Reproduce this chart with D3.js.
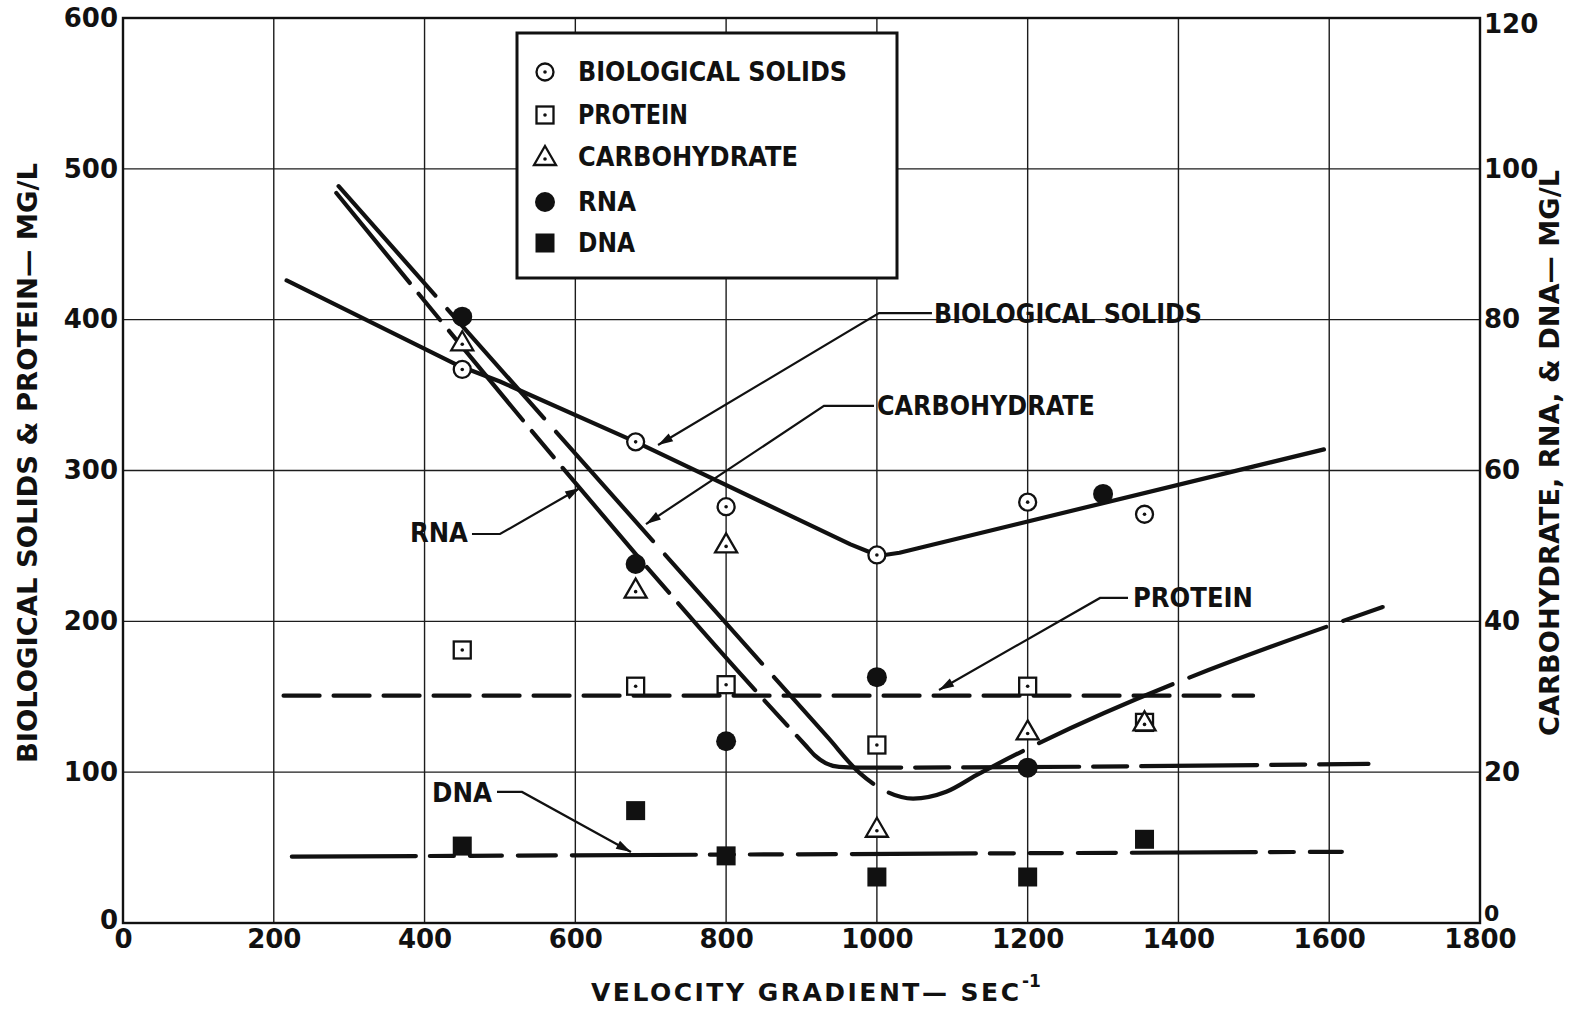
<!DOCTYPE html>
<html>
<head>
<meta charset="utf-8">
<script src="https://cdn.jsdelivr.net/npm/d3@7"></script>
<style>
  html, body { margin: 0; padding: 0; background: #fff; }
  svg { display: block; }
  text { font-family: "DejaVu Sans", "Liberation Sans", sans-serif; font-weight: bold; fill: #111; }
</style>
</head>
<body>
<svg id="chart" width="1575" height="1013"></svg>
<script>
// ---- Axis ticks ----
const xTicks = [0, 200, 400, 600, 800, 1000, 1200, 1400, 1600, 1800];
const leftTicks = [0, 100, 200, 300, 400, 500, 600];
const rightTicks = [0, 20, 40, 60, 80, 100, 120];

// ---- Measured values (left axis, mg/L) ----
const bioX = [450, 680, 800, 1000, 1200, 1355];
const bioSolids = [367, 319, 276, 244, 279, 271];
const proteinX = [450, 680, 800, 1000, 1200, 1355];
const protein = [181, 157, 158, 118, 157, 133];

// ---- Measured values (right axis, mg/L) ----
const carbX = [450, 680, 800, 1000, 1200, 1355];
const carbohydrate = [77.0, 44.2, 50.2, 12.5, 25.4, 26.6];
const rnaX = [450, 680, 800, 1000, 1200, 1300];
const rna = [80.4, 47.6, 24.1, 32.6, 20.6, 56.9];
const dnaX = [450, 680, 800, 1000, 1200, 1355];
const dna = [10.2, 14.9, 8.9, 6.1, 6.1, 11.1];

// ---- Fitted trend curves ----
const bioFitX = [217, 443, 500, 680, 965, 990, 1010, 1030, 1593];
const bioFit = [426, 370, 359, 319, 251, 246, 244, 245.5, 314];
const proteinFitX = [213, 1499];
const proteinFit = [150.7, 150.7];
const carbFitX = [286, 935, 977, 1004, 1048, 1092, 1132, 1671];
const carbFit = [97.7, 24.6, 19.9, 17.9, 16.5, 17.4, 19.6, 41.9];
const rnaFitX = [283, 905, 918, 932, 950, 975, 1652];
const rnaFit = [96.8, 23.6, 22.2, 21.2, 20.7, 20.6, 21.1];
const dnaFitX = [224, 1630];
const dnaFit = [8.8, 9.45];

// ---- Layout ----
const plot = { left: 123, right: 1480, top: 18, bottom: 923 };
const x = d3.scaleLinear().domain([0, 1800]).range([plot.left, plot.right]);
const yL = d3.scaleLinear().domain([0, 600]).range([plot.bottom, plot.top]);
const yR = d3.scaleLinear().domain([0, 120]).range([plot.bottom, plot.top]);

const svg = d3.select("#chart");
const ink = "#111";

// ---- Grid ----
const grid = svg.append("g").attr("stroke", "#1c1c1c").attr("stroke-width", 1.4);
grid.selectAll("line.gv").data(xTicks).join("line").attr("class", "gv")
  .attr("x1", d => x(d)).attr("x2", d => x(d))
  .attr("y1", plot.top).attr("y2", plot.bottom);
grid.selectAll("line.gh").data(leftTicks).join("line").attr("class", "gh")
  .attr("x1", plot.left).attr("x2", plot.right)
  .attr("y1", d => yL(d)).attr("y2", d => yL(d));
svg.append("rect")
  .attr("x", plot.left).attr("y", plot.top)
  .attr("width", plot.right - plot.left).attr("height", plot.bottom - plot.top)
  .attr("fill", "none").attr("stroke", ink).attr("stroke-width", 2.4);

// ---- Axes ----
const tickFont = 26;
function styleAxis(g) {
  g.select(".domain").remove();
  g.attr("font-size", tickFont).attr("font-family", null);
}
svg.append("g").attr("transform", `translate(0,${plot.bottom})`)
  .call(d3.axisBottom(x).tickValues(xTicks).tickSize(0).tickPadding(7).tickFormat(d3.format("d")))
  .call(styleAxis);
svg.append("g").attr("transform", `translate(${plot.left},0)`)
  .call(d3.axisLeft(yL).tickValues(leftTicks).tickSize(0).tickPadding(5).tickFormat(d3.format("d")))
  .call(styleAxis)
  .selectAll(".tick text").attr("y", d => d === 0 ? -3 : 0);
svg.append("g").attr("transform", `translate(${plot.right},0)`)
  .call(d3.axisRight(yR).tickValues(rightTicks).tickSize(0).tickPadding(4).tickFormat(d3.format("d")))
  .call(styleAxis)
  .selectAll(".tick text")
  .attr("y", d => d === 0 ? -10 : d === 120 ? 6 : 0)
  .attr("font-size", d => d === 0 ? 22 : null);

// ---- Axis titles ----
const titleFont = 27;
svg.append("text")
  .attr("transform", `translate(${27 + titleFont * 0.365},463) rotate(-90)`)
  .attr("text-anchor", "middle").attr("font-size", titleFont)
  .attr("textLength", 600).attr("lengthAdjust", "spacingAndGlyphs")
  .text("BIOLOGICAL  SOLIDS  &  PROTEIN— MG/L");
svg.append("text")
  .attr("transform", `translate(${1549 + titleFont * 0.365},453) rotate(-90)`)
  .attr("text-anchor", "middle").attr("font-size", titleFont)
  .attr("textLength", 566).attr("lengthAdjust", "spacingAndGlyphs")
  .text("CARBOHYDRATE, RNA, & DNA— MG/L");
svg.append("text")
  .attr("x", 591).attr("y", 992 + 25 * 0.365).attr("font-size", 25)
  .attr("textLength", 428).attr("lengthAdjust", "spacing")
  .text("VELOCITY GRADIENT— SEC");
svg.append("text")
  .attr("x", 1022).attr("y", 987).attr("font-size", 17)
  .text("-1");

// ---- Trend curves ----
const zipPts = (xs, ys) => xs.map((v, i) => [v, ys[i]]);
const lineBio = d3.line().x(d => x(d[0])).y(d => yL(d[1])).curve(d3.curveLinear);
const lineL = d3.line().x(d => x(d[0])).y(d => yL(d[1])).curve(d3.curveMonotoneX);
const lineR = d3.line().x(d => x(d[0])).y(d => yR(d[1])).curve(d3.curveMonotoneX);

const curves = [
  { gen: lineBio, pts: zipPts(bioFitX, bioFit), dash: null },
  { gen: lineL, pts: zipPts(proteinFitX, proteinFit), dash: "36,14" },
  { gen: lineR, pts: zipPts(carbFitX, carbFit), dash: "146,18" },
  { gen: lineR, pts: zipPts(rnaFitX, rnaFit), dash: "116,14,34,14" },
  { gen: lineR, pts: zipPts(dnaFitX, dnaFit), dash: "124,14,24,16,32,16,38,16" }
];
svg.append("g").selectAll("path").data(curves).join("path")
  .attr("d", c => c.gen(c.pts))
  .attr("fill", "none").attr("stroke", ink).attr("stroke-width", 4.2)
  .attr("stroke-linecap", "round").attr("stroke-linejoin", "round")
  .attr("stroke-dasharray", c => c.dash);

// ---- Marker symbols ----
function drawSymbol(g, kind) {
  if (kind === "circleDot") {
    g.append("circle").attr("r", 8.5).attr("fill", "#fff").attr("stroke", ink).attr("stroke-width", 2.3);
    g.append("circle").attr("r", 1.8).attr("fill", ink);
  } else if (kind === "squareDot") {
    g.append("rect").attr("x", -8.5).attr("y", -8.5).attr("width", 17).attr("height", 17)
      .attr("fill", "#fff").attr("stroke", ink).attr("stroke-width", 2.3);
    g.append("circle").attr("r", 1.8).attr("fill", ink);
  } else if (kind === "triangleDot") {
    g.append("path").attr("d", "M0,-11L11,8L-11,8Z")
      .attr("fill", "#fff").attr("stroke", ink).attr("stroke-width", 2.3).attr("stroke-linejoin", "miter");
    g.append("circle").attr("cy", 2).attr("r", 1.8).attr("fill", ink);
  } else if (kind === "disc") {
    g.append("circle").attr("r", 10).attr("fill", ink);
  } else if (kind === "block") {
    g.append("rect").attr("x", -9.5).attr("y", -9.5).attr("width", 19).attr("height", 19).attr("fill", ink);
  }
}

const series = [
  { kind: "squareDot", xs: proteinX, ys: protein, y: yL },
  { kind: "circleDot", xs: bioX, ys: bioSolids, y: yL },
  { kind: "triangleDot", xs: carbX, ys: carbohydrate, y: yR },
  { kind: "disc", xs: rnaX, ys: rna, y: yR },
  { kind: "block", xs: dnaX, ys: dna, y: yR }
];
series.forEach(s => {
  svg.append("g").selectAll("g").data(zipPts(s.xs, s.ys)).join("g")
    .attr("transform", d => `translate(${x(d[0])},${s.y(d[1])})`)
    .each(function () { drawSymbol(d3.select(this), s.kind); });
});

// ---- Callout labels with leader arrows (points in gradient / left-axis units) ----
const callouts = [
  { text: "BIOLOGICAL SOLIDS", width: 268, anchor: "start", at: [1075.8, 403.9],
    path: [[1073, 404.4], [1002.8, 404.4], [709.7, 316.9]] },
  { text: "CARBOHYDRATE", width: 218, anchor: "start", at: [1000.1, 343.1],
    path: [[996.2, 342.8], [929.8, 342.8], [693.7, 264.5]] },
  { text: "RNA", width: 58, anchor: "end", at: [457.6, 258.6],
    path: [[462.9, 257.9], [500.1, 257.9], [606.2, 288.4]] },
  { text: "PROTEIN", width: 120, anchor: "start", at: [1339.7, 215.5],
    path: [[1333.1, 215.5], [1296, 215.5], [1082.4, 154.5]] },
  { text: "DNA", width: 60, anchor: "end", at: [489.5, 86.2],
    path: [[496.1, 86.9], [529.3, 86.9], [673.8, 47.1]] }
];
const labelFont = 26;
const cg = svg.append("g");
callouts.forEach(c => {
  const px = c.path.map(p => [x(p[0]), yL(p[1])]);
  cg.append("path").attr("d", d3.line()(px))
    .attr("fill", "none").attr("stroke", ink).attr("stroke-width", 2.2);
  const tip = px[px.length - 1], prev = px[px.length - 2];
  const ang = Math.atan2(tip[1] - prev[1], tip[0] - prev[0]);
  const L = 15, Wd = 4.5;
  const bx = tip[0] - L * Math.cos(ang), by = tip[1] - L * Math.sin(ang);
  const nx = -Math.sin(ang) * Wd, ny = Math.cos(ang) * Wd;
  cg.append("path")
    .attr("d", `M${tip[0]},${tip[1]}L${bx + nx},${by + ny}L${bx - nx},${by - ny}Z`)
    .attr("fill", ink);
  cg.append("text")
    .attr("x", x(c.at[0])).attr("y", yL(c.at[1]) + labelFont * 0.365)
    .attr("text-anchor", c.anchor).attr("font-size", labelFont)
    .attr("textLength", c.width).attr("lengthAdjust", "spacingAndGlyphs")
    .text(c.text);
});

// ---- Legend ----
const legendItems = [
  { kind: "circleDot", label: "BIOLOGICAL  SOLIDS", width: 269 },
  { kind: "squareDot", label: "PROTEIN", width: 110 },
  { kind: "triangleDot", label: "CARBOHYDRATE", width: 220 },
  { kind: "disc", label: "RNA", width: 58 },
  { kind: "block", label: "DNA", width: 57 }
];
const legendRows = [72, 115, 157, 202, 243];
const lg = svg.append("g");
lg.append("rect").attr("x", 517).attr("y", 33).attr("width", 380).attr("height", 245)
  .attr("fill", "#fff").attr("stroke", ink).attr("stroke-width", 3);
legendItems.forEach((it, i) => {
  const g = lg.append("g").attr("transform", `translate(545,${legendRows[i]})`);
  drawSymbol(g, it.kind);
  lg.append("text").attr("x", 578).attr("y", legendRows[i] + labelFont * 0.365)
    .attr("font-size", labelFont)
    .attr("textLength", it.width).attr("lengthAdjust", "spacingAndGlyphs")
    .text(it.label);
});
</script>
</body>
</html>
